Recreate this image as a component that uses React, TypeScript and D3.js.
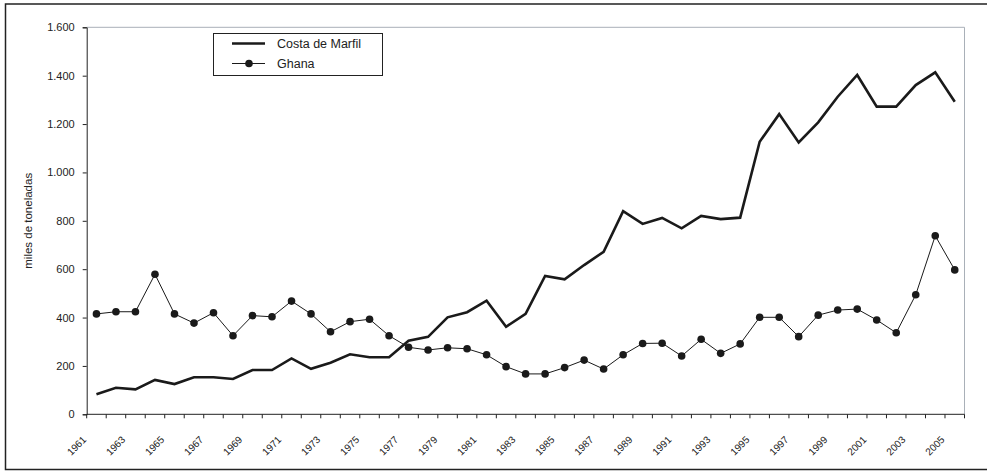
import * as d3 from 'd3';
import React from 'react';

// years on the category axis
const years: number[] = d3.range(1961, 2006);

// thousands of tonnes
const costaDeMarfil: number[] = [
    83, 110, 103, 142, 125, 153, 153, 146, 183, 183,
    231, 188, 213, 248, 236, 236, 304, 320, 401, 422,
    470, 362, 415, 572, 558, 617, 672, 840, 787, 812,
    769, 820, 807, 813, 1127, 1241, 1124, 1207, 1313, 1403,
    1272, 1272, 1361, 1414, 1292,
];

const ghana: number[] = [
    415, 424, 424, 579, 415, 377, 420, 325, 408, 403,
    468, 415, 341, 383, 393, 325, 277, 266, 275, 271,
    246, 197, 167, 167, 193, 224, 187, 246, 293, 294,
    241, 310, 252, 291, 401, 401, 321, 410, 431, 435,
    390, 337, 494, 738, 597,
];

const yTicks: number[] = [0, 200, 400, 600, 800, 1000, 1200, 1400, 1600];
const xLabelYears: number[] = years.filter((y) => (y - 1961) % 2 === 0);

const seriesNames = ['Costa de Marfil', 'Ghana'];

const App = (): React.ReactElement => {
    const width = 987;
    const height = 472;
    const left = 86.7;
    const right = 964.5;
    const top = 27.3;
    const bottom = 414.3;

    const chartRef = React.useRef<SVGSVGElement>(null);

    React.useEffect(() => {
        const svg = d3.select(chartRef.current);
        svg.selectAll('*').remove();

        const font = 'Liberation Sans, Arial, sans-serif';

        const xScale = d3
            .scaleBand<number>()
            .domain(years)
            .range([left, right]);
        const xCenter = (y: number) => (xScale(y) as number) + xScale.bandwidth() / 2;
        const yScale = d3.scaleLinear().domain([0, 1600]).range([bottom, top]);

        // Outer frame (right side runs off the picture).
        svg.append('rect')
            .attr('x', 5.5)
            .attr('y', 4)
            .attr('width', 990)
            .attr('height', 465.5)
            .attr('fill', 'white')
            .attr('stroke', '#222')
            .attr('stroke-width', 1.5);

        // Plot area border (gray top and right).
        svg.append('path')
            .attr('d', `M${left},${top}H${right}V${bottom}`)
            .attr('fill', 'none')
            .attr('stroke', '#a9b0b8')
            .attr('stroke-width', 1);

        // Y axis.
        const yAxis = d3
            .axisLeft(yScale)
            .tickValues(yTicks)
            .tickSize(4)
            .tickPadding(8)
            .tickFormat((d) => d3.format(',')(d as number).replace(/,/g, '.'));
        const gy = svg.append('g').attr('transform', `translate(${left},0)`).call(yAxis);
        gy.select('.domain').attr('stroke', '#222');
        gy.selectAll('line').attr('stroke', '#222');
        gy.selectAll('text')
            .attr('font-family', font)
            .attr('font-size', 11)
            .attr('fill', '#222');

        // X axis: ticks between categories.
        svg.append('line')
            .attr('x1', left)
            .attr('x2', right)
            .attr('y1', bottom)
            .attr('y2', bottom)
            .attr('stroke', '#222');
        svg.append('g')
            .selectAll('line')
            .data([...years, 2006])
            .enter()
            .append('line')
            .attr('x1', (d) => (d === 2006 ? right : (xScale(d) as number)))
            .attr('x2', (d) => (d === 2006 ? right : (xScale(d) as number)))
            .attr('y1', bottom)
            .attr('y2', bottom + 4)
            .attr('stroke', '#222');
        svg.append('g')
            .selectAll('text')
            .data(xLabelYears)
            .enter()
            .append('text')
            .attr('transform', (d) => `translate(${xCenter(d) - 9.5},${bottom + 26}) rotate(-45)`)
            .attr('text-anchor', 'end')
            .attr('font-family', font)
            .attr('font-size', 10)
            .attr('fill', '#222')
            .text((d) => d);

        // Y axis title.
        svg.append('text')
            .attr('transform', `translate(32,${(top + bottom) / 2}) rotate(-90)`)
            .attr('text-anchor', 'middle')
            .attr('font-family', font)
            .attr('font-size', 11.5)
            .attr('fill', '#222')
            .text('miles de toneladas');

        const line = d3
            .line<number>()
            .x((_, i) => xCenter(years[i]))
            .y((d) => yScale(d));

        // Costa de Marfil.
        svg.append('path')
            .datum(costaDeMarfil)
            .attr('d', line)
            .attr('fill', 'none')
            .attr('stroke', '#1a1a1a')
            .attr('stroke-width', 2.6)
            .attr('stroke-linejoin', 'miter');

        // Ghana.
        svg.append('path')
            .datum(ghana)
            .attr('d', line)
            .attr('fill', 'none')
            .attr('stroke', '#1a1a1a')
            .attr('stroke-width', 1);
        svg.append('g')
            .selectAll('circle')
            .data(ghana)
            .enter()
            .append('circle')
            .attr('cx', (_, i) => xCenter(years[i]))
            .attr('cy', (d) => yScale(d))
            .attr('r', 3.8)
            .attr('fill', '#1a1a1a');

        // Legend.
        const legend = svg.append('g');
        legend.append('rect')
            .attr('x', 213.5)
            .attr('y', 33.5)
            .attr('width', 169)
            .attr('height', 42)
            .attr('fill', 'white')
            .attr('stroke', '#222')
            .attr('stroke-width', 1);
        legend.append('line')
            .attr('x1', 232)
            .attr('x2', 265)
            .attr('y1', 43.5)
            .attr('y2', 43.5)
            .attr('stroke', '#1a1a1a')
            .attr('stroke-width', 2.6);
        legend.append('line')
            .attr('x1', 232)
            .attr('x2', 265)
            .attr('y1', 63.5)
            .attr('y2', 63.5)
            .attr('stroke', '#1a1a1a')
            .attr('stroke-width', 1);
        legend.append('circle')
            .attr('cx', 249)
            .attr('cy', 63.5)
            .attr('r', 3.8)
            .attr('fill', '#1a1a1a');
        legend.selectAll('text.lbl')
            .data(seriesNames)
            .enter()
            .append('text')
            .attr('class', 'lbl')
            .attr('x', 277)
            .attr('y', (_, i) => 47.5 + i * 20)
            .attr('font-family', font)
            .attr('font-size', 12.5)
            .attr('fill', '#222')
            .text((d) => d);
    }, []);

    return (
        <div style={{ position: 'fixed', left: 0, top: 0 }}>
            <svg ref={chartRef} width={width} height={height} style={{ display: 'block' }}></svg>
        </div>
    );
};

export default App;
